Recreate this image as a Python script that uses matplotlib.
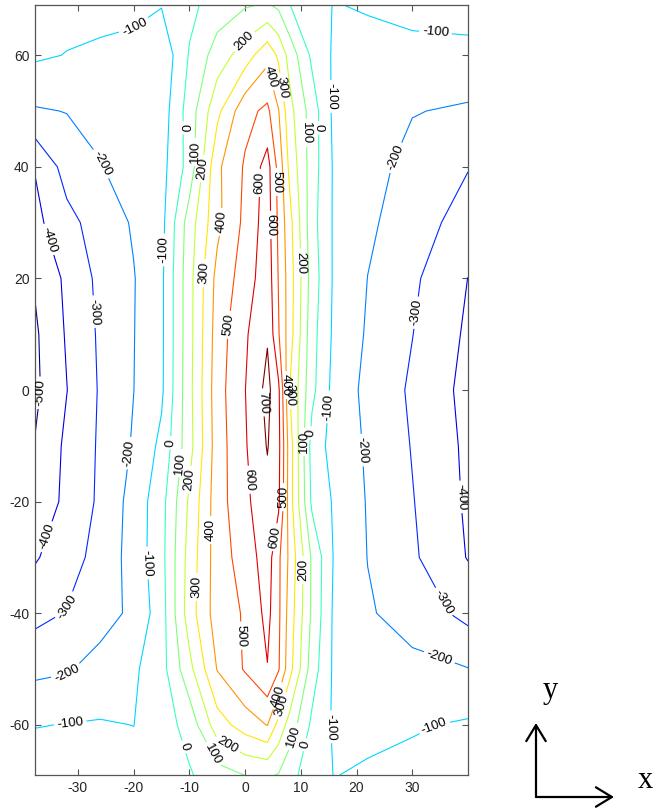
import numpy as np
import matplotlib
matplotlib.use("Agg")
import matplotlib.pyplot as plt
from matplotlib.patches import FancyArrowPatch

plt.rcParams["axes.unicode_minus"] = False
plt.rcParams["font.family"] = ["Liberation Sans", "DejaVu Sans"]

# grid nodes of the measured field
x_nodes = [-37.7, -32, -26, -20, -15, -10, -5, 0, 4, 6, 8, 12, 16, 22, 30, 40]
y_nodes = [-69, -60, -50, -40, -30, -20, -10, 0, 10, 20, 30, 40, 50, 60, 69]

# field values, one row per y node (bottom to top)
z_rows = [
    [-60, -62, -65, -70, -45, -10, 55, 102, 110, 95, 30, -50, -103, -85, -70, -60],
    [-103, -98, -93, -101, -48, 37, 254, 347, 404, 267, 160, -20, -115, -130, -110, -88],
    [-225, -210, -163, -116, -38, 170, 405, 510, 596, 510, 335, 50, -120, -150, -175, -197],
    [-330, -295, -240, -180, -45, 253, 450, 510, 630, 520, 355, 83, -120, -190, -240, -330],
    [-410, -343, -265, -162, -32, 240, 450, 545, 650, 520, 377, 85, -110, -202, -285, -405],
    [-460, -380, -282, -163, -37, 217, 455, 577, 670, 620, 345, -20, -112, -207, -295, -415],
    [-495, -380, -287, -190, -76, 163, 451, 590, 706, 630, 350, -40, -140, -212, -305, -420],
    [-520, -402, -290, -201, -118, 170, 458, 598, 730, 620, 300, 27, -135, -226, -315, -430],
    [-515, -390, -285, -203, -120, 165, 448, 586, 690, 508, 345, 37, -121, -211, -298, -416],
    [-490, -380, -275, -205, -120, 165, 432, 545, 665, 494, 350, 55, -116, -201, -282, -401],
    [-427, -330, -256, -190, -131, 150, 374, 525, 650, 480, 333, 37, -115, -185, -245, -350],
    [-395, -260, -205, -155, -134, 38, 380, 512, 640, 467, 275, 50, -115, -160, -235, -295],
    [-210, -197, -170, -140, -155, 45, 274, 470, 522, 405, 233, 53, -125, -150, -195, -215],
    [-85, -103, -112, -118, -177, 8, 146, 250, 370, 282, 162, -20, -115, -138, -124, -120],
    [-60, -70, -78, -85, -95, -25, 45, 90, 110, 80, 2, -65, -104, -90, -75, -70],
]

levels = list(range(-500, 701, 100))
x_ticks = [-30, -20, -10, 0, 10, 20, 30]
y_ticks = [-60, -40, -20, 0, 20, 40, 60]

# where each level gets its inline label
label_spots = {
    -500: [(-36.8, -0.5)],
    -400: [(-35.5, 26.9), (-35, -26.5), (37.7, -19.2)],
    -300: [(-27.8, 14), (-31.8, -38.9), (31.1, 13.8), (34.5, -38.6)],
    -200: [(-25.5, 40.7), (-21, -11.3), (-32, -50.8), (26.6, 41.8), (20.6, -10.8), (34.1, -50)],
    -100: [(-18.9, 63.7), (-14.7, 25.1), (-17.6, -31), (-31.4, -59.6), (34.1, 63.3),
           (14.7, 52.6), (14.4, -3), (14.7, -60.4), (34.1, -60.6)],
    0: [(-11.3, 47), (-12.6, -9.5), (-11.1, -64), (13.1, 47), (11.7, -7.7), (11.3, -63.7)],
    100: [(-10.2, 42.7), (-11.7, -13.1), (-7.2, -66), (11.3, 46.1), (10.8, -9.3), (9, -62.2)],
    200: [(0, 62.4), (-8.6, 39.8), (-10.2, -16.1), (-3.2, -63.7), (9.3, 22.8), (10.4, -32.3)],
    300: [(-8.1, 21), (-8.6, -35.3), (6.1, 54.2), (7.7, -0.9), (7.5, -56.9)],
    400: [(-3.6, 30.1), (-6.6, -25.1), (3.9, 56), (6.8, 0.9), (6.3, -55)],
    500: [(-3.1, 11.7), (-0.5, -44), (5.4, 37.3), (6.8, -19.2)],
    600: [(3.1, 37.1), (4.8, 29.6), (0.5, -16.1), (5.4, -26.4)],
    700: [(2.2, -2.3)],
}

W, H = 656, 809
fig = plt.figure(figsize=(W / 100, H / 100), dpi=100)
ax = fig.add_axes([35 / W, 1 - 775 / H, 433 / W, 770 / H])
ax.set_xlim(-37.7, 40)
ax.set_ylim(-69, 69)

z = np.array(z_rows, dtype=float)
cmap = plt.get_cmap("jet")
norm = plt.Normalize(-500, 700)

# one contour set per level so each can carry its own hand-placed labels
for lev in levels:
    cs = ax.contour(x_nodes, y_nodes, z, levels=[lev], colors=[cmap(norm(lev))],
                    linewidths=0.8, linestyles="solid")
    ax.clabel(cs, manual=label_spots[lev], inline=True, inline_spacing=3,
              fmt="%d", fontsize=9.5, colors="black")

ax.set_xlim(-37.7, 40)
ax.set_ylim(-69, 69)
ax.set_xticks(x_ticks)
ax.set_yticks(y_ticks)
ax.tick_params(direction="in", top=True, right=True, length=4, width=0.8,
               labelsize=10, labelcolor="#262626", color="#555555", pad=4)
for sp in ax.spines.values():
    sp.set_color("#555555")
    sp.set_linewidth(0.9)

# little coordinate sketch in the corner
corner = (536 / W, 12 / H)
for tip in [(536 / W, 86 / H), (614 / W, 12 / H)]:
    fig.add_artist(FancyArrowPatch(corner, tip, transform=fig.transFigure,
                                   arrowstyle="->,head_length=1.15,head_width=0.7",
                                   mutation_scale=10, lw=1.6, color="black",
                                   shrinkA=0, shrinkB=0))
fig.text(550 / W, 111 / H, "y", ha="center", va="baseline", fontsize=22,
         family="Liberation Serif")
fig.text(645 / W, 21 / H, "x", ha="center", va="baseline", fontsize=22,
         family="Liberation Serif")

fig.savefig("out.png", dpi=100)
